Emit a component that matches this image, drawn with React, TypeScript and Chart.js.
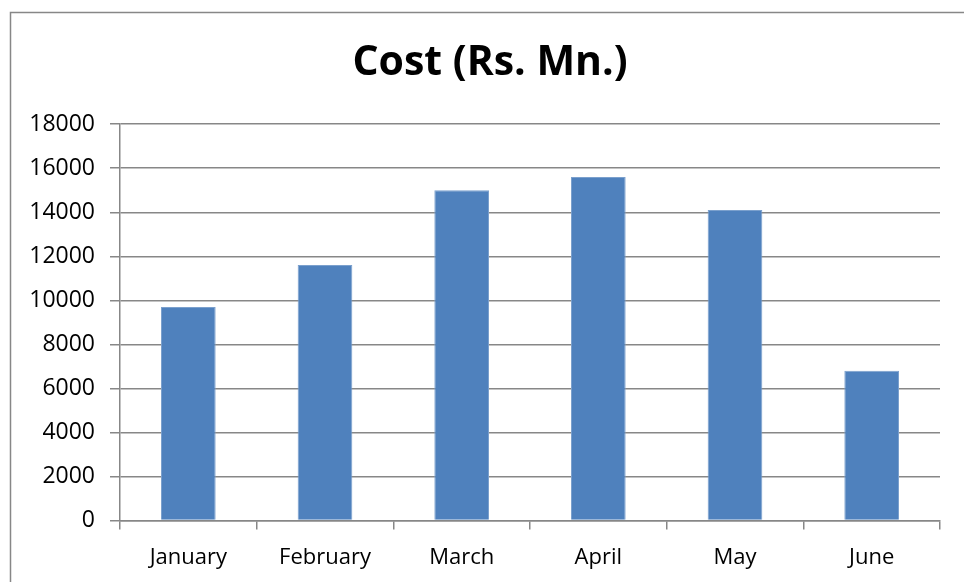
import React, { useEffect, useRef } from "react";
import { Chart, registerables } from "chart.js";

Chart.register(...registerables);

const categories = ["January", "February", "March", "April", "May", "June"];
const costValues = [9700, 11600, 15000, 15600, 14100, 6800];
const chartTitle = "Cost (Rs. Mn.)";
const yMin = 0;
const yMax = 18000;
const yStep = 2000;

const FONT = "'Open Sans', 'DejaVu Sans', sans-serif";

const borderPlugin = {
  id: "outerBorder",
  beforeDraw(chart: any) {
    const ctx = chart.ctx;
    ctx.save();
    ctx.strokeStyle = "#878787";
    ctx.lineWidth = 1.5;
    ctx.strokeRect(10.5, 12.5, chart.width + 20, chart.height + 20);
    ctx.restore();
  },
};

export default function App() {
  const ref = useRef<HTMLCanvasElement | null>(null);

  useEffect(() => {
    document.body.style.margin = "0";
    document.body.style.overflow = "hidden";
    const canvas = ref.current;
    if (!canvas) return;
    const chart = new Chart(canvas, {
      type: "bar",
      data: {
        labels: categories,
        datasets: [
          {
            label: "Cost",
            data: costValues,
            backgroundColor: "#4F81BD",
            borderColor: "#7BA0CD",
            borderWidth: 1,
            barPercentage: 0.4,
            categoryPercentage: 1,
          },
        ],
      },
      options: {
        animation: false,
        responsive: false,
        maintainAspectRatio: false,
        layout: { padding: { left: 16, right: 0, top: 0, bottom: 0 } },
        plugins: {
          legend: { display: false },
          tooltip: { enabled: false },
          title: {
            display: true,
            text: chartTitle,
            color: "#000000",
            font: { family: FONT, size: 41, weight: "bold" },
            lineHeight: 1.2,
            padding: { top: 39, bottom: 36 },
          },
        },
        scales: {
          x: {
            grid: {
              display: true,
              drawOnChartArea: false,
              drawTicks: true,
              tickLength: 9,
              color: "#878787",
              lineWidth: 1.5,
              offset: true,
            },
            border: { display: true, color: "#878787", width: 1.5 },
            ticks: {
              color: "#000000",
              font: { family: FONT, size: 22 },
              padding: 15,
              maxRotation: 0,
            },
            afterFit(scale: any) {
              scale.height = 61.5;
            },
          },
          y: {
            min: yMin,
            max: yMax,
            grid: {
              color: "#878787",
              lineWidth: 1.5,
              drawTicks: true,
              tickLength: 10,
            },
            border: { display: true, color: "#878787", width: 1.5 },
            ticks: {
              stepSize: yStep,
              color: "#000000",
              font: { family: FONT, size: 23 },
              padding: 15,
              callback: (v: any) => String(v),
            },
            afterFit(scale: any) {
              scale.width = 104;
            },
          },
          yRightSpace: {
            position: "right",
            display: true,
            grid: { display: false },
            border: { display: false },
            ticks: { display: false },
            afterFit(scale: any) {
              scale.width = 24;
            },
          },
        },
      },
      plugins: [borderPlugin],
    });
    return () => chart.destroy();
  }, []);

  return (
    <div style={{ width: 964, height: 582 }}>
      <canvas ref={ref} width={964} height={582} style={{ display: "block" }} />
    </div>
  );
}
